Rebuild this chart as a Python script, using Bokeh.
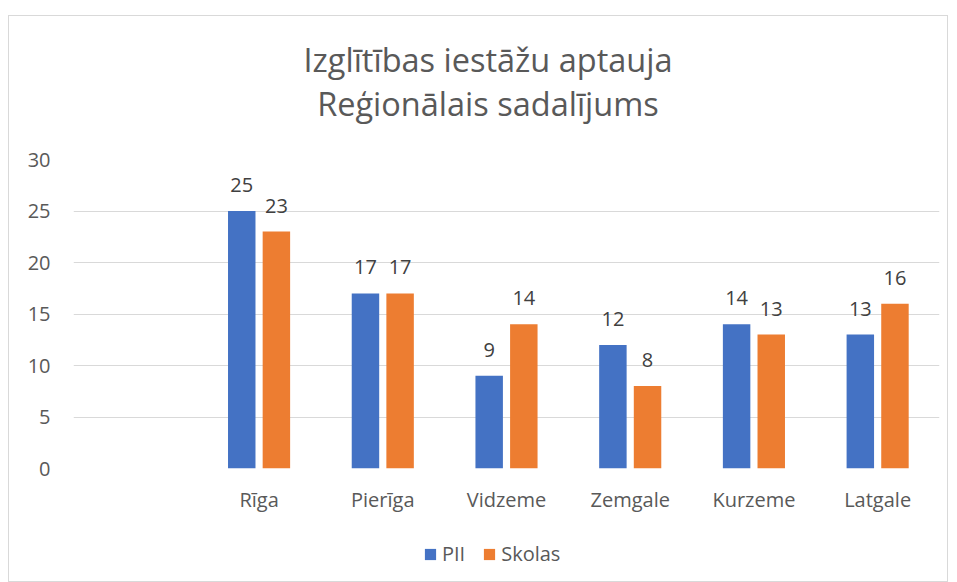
from bokeh.plotting import figure
from bokeh.layouts import column
from bokeh.models import ColumnDataSource, FactorRange, Range1d, Legend, LegendItem, SingleIntervalTicker, Div
from bokeh.transform import dodge
from bokeh.embed import file_html
from bokeh.resources import INLINE
from bokeh.core.properties import value

# ---- data ----
categories = [" ", "Rīga", "Pierīga", "Vidzeme", "Zemgale", "Kurzeme", "Latgale"]
regions = ["Rīga", "Pierīga", "Vidzeme", "Zemgale", "Kurzeme", "Latgale"]
pii = [25, 17, 9, 12, 14, 13]
skolas = [23, 17, 14, 8, 13, 16]
series_names = ["PII", "Skolas"]
title_line1 = "Izglītības iestāžu aptauja"
title_line2 = "Reģionālais sadalījums"

FONT = "Open Sans"
TXT = "#595959"
C_PII = "#4472c4"
C_SK = "#ed7d31"

src = ColumnDataSource(dict(
    x=regions, pii=pii, skolas=skolas,
    pii_lbl=[str(v) for v in pii], sk_lbl=[str(v) for v in skolas],
))

# title block (two centred lines)
title_div = Div(
    text=title_line1 + "<br>" + title_line2,
    width=938, height=120, margin=(0, 0, 0, 0),
    styles={"font-family": "'Open Sans'", "font-size": "32.5px", "color": TXT,
            "line-height": "44px", "text-align": "center", "padding-top": "22px",
            "padding-left": "20px", "box-sizing": "border-box", "width": "938px"},
)

p = figure(
    x_range=FactorRange(*categories), y_range=Range1d(0, 30),
    width=938, height=385, output_backend="svg", toolbar_location=None,
    min_border_left=64, min_border_right=8, min_border_top=23, min_border_bottom=53,
    background_fill_color="white", border_fill_color="white", outline_line_color=None,
)
p.title = None

bw = 0.222
off = 0.14
r1 = p.vbar(x=dodge("x", -off, range=p.x_range), top="pii", width=bw, source=src,
            color=C_PII, line_color=None)
r2 = p.vbar(x=dodge("x", off, range=p.x_range), top="skolas", width=bw, source=src,
            color=C_SK, line_color=None)

p.text(x=dodge("x", -off, range=p.x_range), y="pii", text="pii_lbl", source=src,
       text_align="center", text_baseline="alphabetic", y_offset=-26,
       text_font=value(FONT), text_font_size="20px", text_color="#404040")
p.text(x=dodge("x", off, range=p.x_range), y="skolas", text="sk_lbl", source=src,
       text_align="center", text_baseline="alphabetic", y_offset=-26,
       text_font=value(FONT), text_font_size="20px", text_color="#404040")

# axes
p.yaxis.ticker = SingleIntervalTicker(interval=5)
p.yaxis.axis_line_color = None
p.yaxis.major_tick_line_color = None
p.yaxis.minor_tick_line_color = None
p.yaxis.major_label_text_font = FONT
p.yaxis.major_label_text_font_size = "20px"
p.yaxis.major_label_text_color = TXT
p.yaxis.major_label_standoff = 17

p.xaxis.axis_line_color = None
p.xaxis.major_tick_line_color = None
p.xaxis.major_label_text_font = FONT
p.xaxis.major_label_text_font_size = "20px"
p.xaxis.major_label_text_color = TXT
p.xaxis.major_label_standoff = 11

p.xgrid.grid_line_color = None
p.ygrid.grid_line_color = "#d9d9d9"
p.ygrid.grid_line_width = 1

# legend strip (its bars use the same data but lie outside the visible range)
lf = figure(x_range=FactorRange(*categories), y_range=Range1d(1000, 1001),
            width=938, height=60, output_backend="svg", toolbar_location=None,
            min_border=0, outline_line_color=None, background_fill_color="white",
            border_fill_color="white")
lf.axis.visible = False
lf.grid.visible = False
d1 = lf.vbar(x="x", top="pii", width=0.2, source=src, color=C_PII, line_color=None)
d2 = lf.vbar(x="x", top="skolas", width=0.2, source=src, color=C_SK, line_color=None)
legend = Legend(items=[LegendItem(label=series_names[0], renderers=[d1]),
                       LegendItem(label=series_names[1], renderers=[d2])],
                orientation="horizontal", location=(350, 14),
                glyph_width=14, glyph_height=14, label_standoff=5, spacing=17,
                label_text_font=FONT, label_text_font_size="20px", label_text_color=TXT,
                border_line_color=None, background_fill_alpha=0, padding=0, margin=0)
lf.add_layout(legend)

root = column(title_div, p, lf, spacing=0, styles={"border": "1px solid #d9d9d9"})
root.margin = (15, 0, 0, 8)

open("out.html", "w").write(file_html(root, INLINE))
